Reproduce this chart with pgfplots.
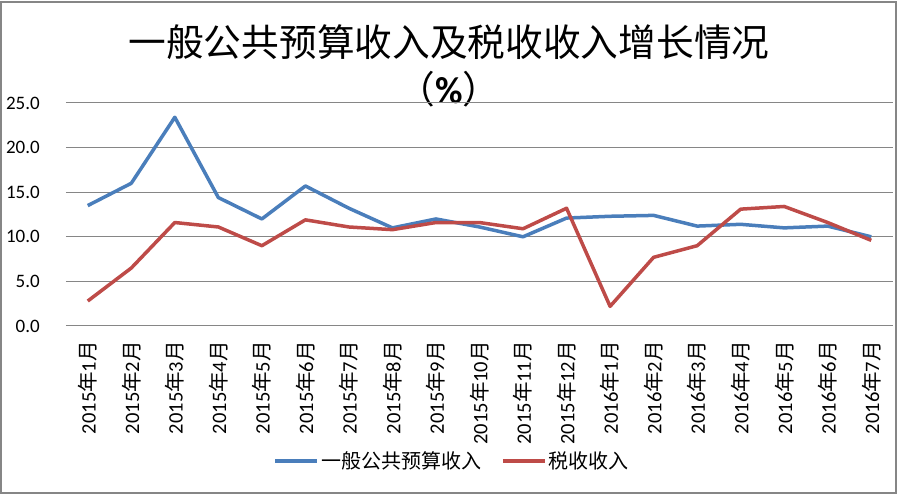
\documentclass[border=0pt]{standalone}
\usepackage{pgfplots}
\pgfplotsset{compat=1.18}
\usepackage{fontspec}
\setmainfont{Carlito}
\newfontfamily\cjk{Noto Sans CJK SC}
\definecolor{gridgray}{RGB}{134,134,134}
\definecolor{serblue}{RGB}{74,126,187}
\definecolor{serred}{RGB}{190,75,72}
\newcommand\ym[2]{#1{\cjk 年}#2{\cjk 月}}

\begin{document}
\begin{tikzpicture}[x=1pt,y=1pt]
\useasboundingbox (0,0) rectangle (899,495);
\draw[gridgray, line width=2pt] (1,2) rectangle (896,493);
% title, two lines
\node[font=\cjk\fontsize{37.7}{40}\selectfont, inner sep=0pt] at (449,453) {一般公共预算收入及税收收入增长情况};
\node[font=\fontsize{37.7}{40}\selectfont, inner sep=0pt] at (449,406) {{\cjk （}\textbf{\%}{\cjk ）}};

\begin{axis}[
    at={(66pt,169pt)}, anchor=south west,
    scale only axis, width=827pt, height=223pt,
    xmin=-0.5, xmax=18.5, ymin=0, ymax=25,
    xtick={0,...,18},
    xticklabels={\ym{2015}{1},\ym{2015}{2},\ym{2015}{3},\ym{2015}{4},\ym{2015}{5},\ym{2015}{6},\ym{2015}{7},\ym{2015}{8},\ym{2015}{9},\ym{2015}{10},\ym{2015}{11},\ym{2015}{12},\ym{2016}{1},\ym{2016}{2},\ym{2016}{3},\ym{2016}{4},\ym{2016}{5},\ym{2016}{6},\ym{2016}{7}},
    ytick={0,5,...,25},
    axis line style={draw=none},
    major tick length=0pt,
    tick style={draw=none},
    ymajorgrids,
    grid style={gridgray, line width=1pt},
    x tick label style={rotate=90, anchor=east, inner sep=0pt, font=\fontsize{20.5}{22}\selectfont},
    xticklabel shift=15pt,
    y tick label style={anchor=east, inner sep=0pt, font=\fontsize{19}{22}\selectfont,
        /pgf/number format/.cd, fixed, fixed zerofill, precision=1, assume math mode=true},
    yticklabel shift=26pt,
    legend columns=2,
    legend style={at={(0.467,-0.605)}, anchor=center, draw=none, fill=none,
        font=\cjk\fontsize{20}{24}\selectfont,
        /tikz/every even column/.append style={column sep=18pt}},
    legend image code/.code={\draw[#1] (0pt,0pt) -- (42pt,0pt);},
    no markers,
]
% 一般公共预算收入
\addplot[serblue, line width=3.5pt, line join=round] coordinates {
    (0,13.5) (1,16.0) (2,23.4) (3,14.4) (4,12.0) (5,15.7) (6,13.2) (7,11.0) (8,12.0) (9,11.1)
    (10,10.0) (11,12.1) (12,12.3) (13,12.4) (14,11.2) (15,11.4) (16,11.0) (17,11.2) (18,10.0)
};
\addlegendentry{一般公共预算收入}
% 税收收入
\addplot[serred, line width=3.5pt, line join=round] coordinates {
    (0,2.8) (1,6.5) (2,11.6) (3,11.1) (4,9.0) (5,11.9) (6,11.1) (7,10.8) (8,11.6) (9,11.6)
    (10,10.9) (11,13.2) (12,2.2) (13,7.7) (14,9.0) (15,13.1) (16,13.4) (17,11.6) (18,9.6)
};
\addlegendentry{税收收入}
\end{axis}
\end{tikzpicture}
\end{document}
